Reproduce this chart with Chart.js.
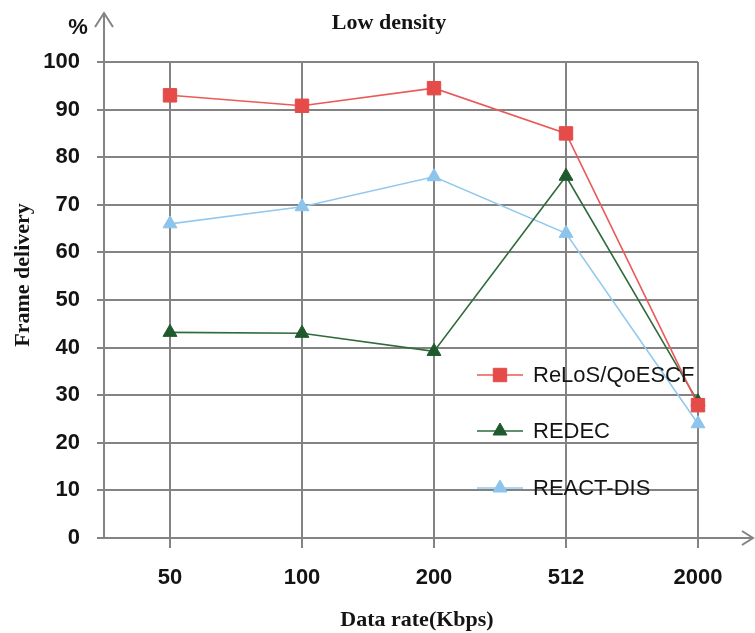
<!DOCTYPE html>
<html>
<head>
<meta charset="utf-8">
<script src="https://cdn.jsdelivr.net/npm/chart.js@4/dist/chart.umd.min.js"></script>
<style>
  html, body { margin: 0; padding: 0; background: #fff; }
  #wrap { width: 755px; height: 633px; }
</style>
</head>
<body>
<div id="wrap"><canvas id="c" width="755" height="633"></canvas></div>
<script>
// Frame delivery (%) per data rate, low-density scenario
const dataRates = ['50', '100', '200', '512', '2000'];
const relosQoescf = [93, 90.8, 94.5, 85, 27.9];
const redec = [43.2, 43, 39.2, 76, 28.6];
const reactDis = [66, 69.6, 75.9, 64, 24];

const GRID = '#838383';
const TEXT = '#141414';

const toPoints = vals => vals.map((v, i) => ({ x: i, y: v }));

// Axis arrows, axis titles, chart title and in-plot legend
const decorations = {
  id: 'decorations',
  afterDraw(chart) {
    const { ctx, chartArea: a } = chart;
    ctx.save();
    ctx.strokeStyle = GRID;
    ctx.lineWidth = 2;
    ctx.lineCap = 'butt';
    // y axis extension with arrow head
    ctx.beginPath();
    ctx.moveTo(a.left, a.top);
    ctx.lineTo(a.left, 13);
    ctx.moveTo(a.left - 9, 27);
    ctx.lineTo(a.left, 13);
    ctx.lineTo(a.left + 9, 27);
    // x axis extension with arrow head
    ctx.moveTo(a.right, a.bottom);
    ctx.lineTo(753, a.bottom);
    ctx.moveTo(742, a.bottom - 7);
    ctx.lineTo(753, a.bottom);
    ctx.lineTo(742, a.bottom + 7);
    ctx.stroke();

    ctx.fillStyle = TEXT;
    ctx.textAlign = 'center';
    ctx.textBaseline = 'middle';
    ctx.font = 'bold 22px "Liberation Sans", Arial, sans-serif';
    ctx.fillText('%', 78, 28);
    ctx.font = 'bold 22px "Liberation Serif", "Times New Roman", serif';
    ctx.fillText('Low density', 389, 23);
    ctx.fillText('Data rate(Kbps)', 417, 620);
    ctx.save();
    ctx.translate(23, 275);
    ctx.rotate(-Math.PI / 2);
    ctx.fillText('Frame delivery', 0, 0);
    ctx.restore();

    // legend
    const rows = [375, 431, 488];
    chart.data.datasets.forEach((ds, i) => {
      const y = rows[i];
      ctx.strokeStyle = ds.borderColor;
      ctx.lineWidth = ds.borderWidth;
      ctx.beginPath();
      ctx.moveTo(477, y);
      ctx.lineTo(523, y);
      ctx.stroke();
      ctx.fillStyle = ds.pointBackgroundColor;
      ctx.strokeStyle = ds.pointBorderColor;
      ctx.lineWidth = 1;
      ctx.beginPath();
      if (ds.pointStyle === 'rect') {
        const s = Math.SQRT1_2 * ds.pointRadius;
        ctx.rect(500 - s, y - s, 2 * s, 2 * s);
      } else {
        const r = ds.pointRadius;
        ctx.moveTo(500, y - r);
        ctx.lineTo(500 + 0.866 * r, y + 0.5 * r);
        ctx.lineTo(500 - 0.866 * r, y + 0.5 * r);
        ctx.closePath();
      }
      ctx.fill();
      ctx.stroke();
      ctx.fillStyle = TEXT;
      ctx.textAlign = 'left';
      ctx.font = '22px "Liberation Sans", Arial, sans-serif';
      ctx.fillText(ds.label, 533, y + 1);
    });
    ctx.restore();
  }
};

const series = (label, vals, line, marker, style, radius) => ({
  label,
  data: toPoints(vals),
  borderColor: line,
  borderWidth: 1.6,
  pointStyle: style,
  pointRadius: radius,
  pointHoverRadius: radius,
  pointBackgroundColor: marker,
  pointBorderColor: marker,
  pointBorderWidth: 1,
  tension: 0,
  clip: false
});

new Chart(document.getElementById('c'), {
  type: 'line',
  data: {
    datasets: [
      series('ReLoS/QoESCF', relosQoescf, '#EA5A58', '#E54B49', 'rect', 9.5),
      series('REDEC', redec, '#2F6B3B', '#1F5A2C', 'triangle', 8),
      series('REACT-DIS', reactDis, '#93C9EE', '#8CC4EC', 'triangle', 8)
    ]
  },
  options: {
    responsive: false,
    animation: false,
    devicePixelRatio: 1,
    layout: { padding: { top: 62, right: 57, left: 0, bottom: 0 } },
    plugins: {
      legend: { display: false },
      tooltip: { enabled: false },
      title: { display: false }
    },
    scales: {
      x: {
        type: 'linear',
        min: -0.5,
        max: 4,
        afterBuildTicks: scale => {
          scale.ticks = dataRates.map((_, i) => ({ value: i }));
        },
        afterFit: scale => { scale.height = 95; },
        grid: { color: GRID, lineWidth: 2, tickLength: 10, drawTicks: true },
        border: { display: true, color: GRID, width: 2 },
        ticks: {
          autoSkip: false,
          maxRotation: 0,
          padding: 17,
          color: TEXT,
          font: { family: '"Liberation Sans", Arial, sans-serif', size: 22, weight: 'bold' },
          callback: v => dataRates[v] ?? ''
        }
      },
      y: {
        min: 0,
        max: 100,
        afterFit: scale => { scale.width = 104; },
        grid: { color: GRID, lineWidth: 2, tickLength: 7, drawTicks: true },
        border: { display: true, color: GRID, width: 2 },
        ticks: {
          stepSize: 10,
          padding: 17,
          color: TEXT,
          font: { family: '"Liberation Sans", Arial, sans-serif', size: 22, weight: 'bold' }
        }
      }
    }
  },
  plugins: [decorations]
});
</script>
</body>
</html>
